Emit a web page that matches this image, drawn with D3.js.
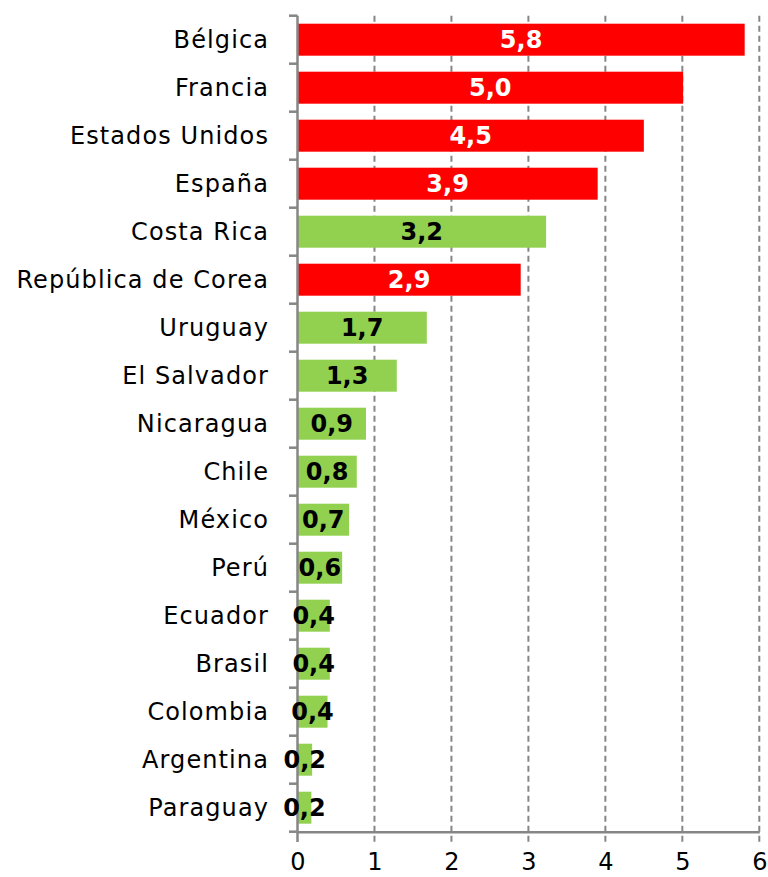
<!DOCTYPE html>
<html><head><meta charset="utf-8">
<script src="https://cdn.jsdelivr.net/npm/d3@7"></script>
<style>body{margin:0;background:#fff;} svg{display:block;font-family:"DejaVu Sans",sans-serif;}</style>
</head><body><svg id="c" width="768" height="877"></svg>
<script>
const categories = ["Bélgica","Francia","Estados Unidos","España","Costa Rica","República de Corea","Uruguay","El Salvador","Nicaragua","Chile","México","Perú","Ecuador","Brasil","Colombia","Argentina","Paraguay"];
const values = [5.81,5.01,4.5,3.9,3.23,2.9,1.68,1.29,0.89,0.77,0.67,0.58,0.42,0.42,0.39,0.19,0.18];
const labels = ["5,8","5,0","4,5","3,9","3,2","2,9","1,7","1,3","0,9","0,8","0,7","0,6","0,4","0,4","0,4","0,2","0,2"];
const groups = ["ocde","ocde","ocde","ocde","al","ocde","al","al","al","al","al","al","al","al","al","al","al"];
const xTicks = [0,1,2,3,4,5,6];
const colors = {ocde:"#FF0000", al:"#92D050"};
const labelColors = {ocde:"#FFFFFF", al:"#000000"};

const svg = d3.select("#c");
const x = d3.scaleLinear().domain([0,6]).range([297.5,759.3]);
const y = d3.scaleBand().domain(categories).range([15.7,831.7]).paddingInner(1/3).paddingOuter(1/6);
const axisColor = "#868686";

// gridlines
svg.append("g").selectAll("line").data(xTicks.slice(1)).join("line")
  .attr("x1",d=>x(d)).attr("x2",d=>x(d)).attr("y1",15.7).attr("y2",842)
  .attr("stroke",axisColor).attr("stroke-width",2).attr("stroke-dasharray","6,4");

// bars
svg.append("g").selectAll("rect").data(categories).join("rect")
  .attr("x",x(0)).attr("y",d=>y(d)).attr("height",y.bandwidth())
  .attr("width",(d,i)=>x(values[i])-x(0))
  .attr("fill",(d,i)=>colors[groups[i]]);

// x axis
const xa = svg.append("g").attr("transform","translate(0,831.7)")
  .call(d3.axisBottom(x).tickValues(xTicks).tickSize(0).tickFormat(d3.format("d")));
xa.select(".domain").attr("stroke",axisColor).attr("stroke-width",2.5);
xa.selectAll("text").attr("y",38).attr("dy",null).attr("font-size",24).attr("fill","#000").attr("font-family","DejaVu Sans, sans-serif");
svg.append("line").attr("x1",x(0)).attr("x2",x(0)).attr("y1",831.7).attr("y2",842).attr("stroke",axisColor).attr("stroke-width",2.5);

// y axis
const bounds = d3.range(categories.length+1).map(i=>15.7+i*48);
svg.append("line").attr("x1",x(0)).attr("x2",x(0)).attr("y1",15.7).attr("y2",831.7).attr("stroke",axisColor).attr("stroke-width",2.5);
svg.append("g").selectAll("line").data(bounds).join("line")
  .attr("x1",289).attr("x2",x(0)).attr("y1",d=>d).attr("y2",d=>d)
  .attr("stroke",axisColor).attr("stroke-width",2.5);

svg.append("g").selectAll("text").data(categories).join("text")
  .attr("x",269).attr("y",d=>y(d)+y.bandwidth()/2+8)
  .attr("text-anchor","end").attr("font-size",24).attr("letter-spacing","1.1px").attr("fill","#000").text(d=>d);

// value labels
svg.append("g").selectAll("text").data(categories).join("text")
  .attr("x",(d,i)=>(x(0)+x(values[i]))/2).attr("y",d=>y(d)+y.bandwidth()/2+8.5)
  .attr("text-anchor","middle").attr("font-size",24).attr("font-weight","bold")
  .attr("fill",(d,i)=>labelColors[groups[i]]).text((d,i)=>labels[i]);
</script></body></html>
